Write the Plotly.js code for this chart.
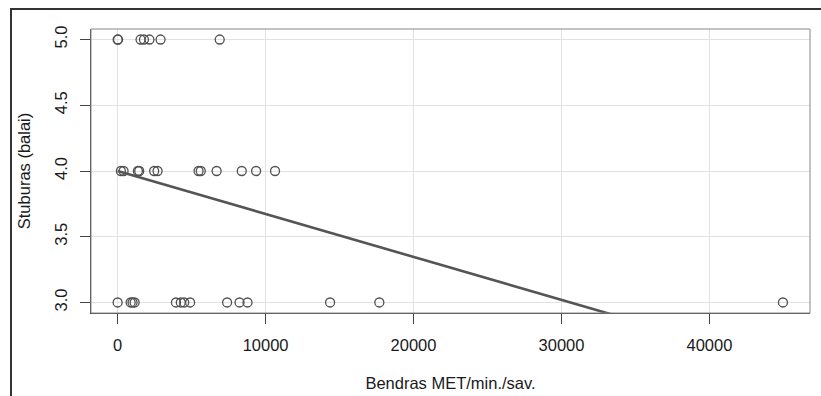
<!DOCTYPE html>
<html>
<head>
<meta charset="utf-8">
<script src="https://cdn.plot.ly/plotly-3.0.1.min.js"></script>
<style>
  html, body { margin: 0; padding: 0; background: #fff; }
  #wrap { position: relative; width: 821px; height: 396px; }
  #chart { position: absolute; left: 0; top: 0; width: 821px; height: 396px; }
  #frame { position: absolute; left: 10px; top: 8px; width: 820px; height: 400px;
           border-top: 2px solid #333; border-left: 2px solid #333; pointer-events: none; }
</style>
</head>
<body>
<div id="wrap">
  <div id="chart"></div>
  <div id="frame"></div>
</div>
<script>
// Physical activity (MET-min/week) by score level
const score5X = [0, 30, 1550, 1780, 2150, 2900, 6900];
const score4X = [220, 400, 1370, 1460, 2470, 2700, 5470, 5620, 6690, 8390, 9360, 10640];
const score3X = [0, 880, 1010, 1150, 3940, 4270, 4500, 4900, 7400, 8240, 8780, 14360, 17690, 44970];
const scoreLevels = [5, 4, 3];

// Fitted regression line
const fitX = [0, 45000];
const fitY = [4.0, 2.53];

const xTicks = [0, 10000, 20000, 30000, 40000];
const yTicks = [3.0, 3.5, 4.0, 4.5, 5.0];
const xLabel = 'Bendras MET/min./sav.';
const yLabel = 'Stuburas (balai)';

const groups = [score5X, score4X, score3X];
const ptsX = [], ptsY = [];
groups.forEach((g, i) => g.forEach(v => { ptsX.push(v); ptsY.push(scoreLevels[i]); }));

const textColor = '#1a1a1a';
const fontFam = '"Liberation Sans", Arial, sans-serif';
const fs = 16.5;

const traces = [
  {
    x: ptsX, y: ptsY, type: 'scatter', mode: 'markers',
    marker: { symbol: 'circle-open', size: 9, color: '#505050', line: { width: 1.3, color: '#505050' } },
    hoverinfo: 'x+y', showlegend: false, cliponaxis: true
  },
  {
    x: fitX, y: fitY, type: 'scatter', mode: 'lines',
    line: { color: '#555', width: 2.6 },
    showlegend: false, cliponaxis: true
  }
];

const layout = {
  width: 821, height: 396,
  margin: { l: 91, r: 11, t: 29, b: 83 },
  paper_bgcolor: 'rgba(0,0,0,0)',
  plot_bgcolor: '#fff',
  font: { family: fontFam, size: fs, color: textColor },
  showlegend: false,
  xaxis: {
    range: [-1800, 46800],
    tickvals: xTicks, ticktext: xTicks.map(String),
    showgrid: true, gridcolor: '#e2e2e2', gridwidth: 1,
    zeroline: false,
    showline: true, linecolor: '#444', linewidth: 1,
    ticks: 'outside', ticklen: 10, tickcolor: '#444', tickwidth: 1,
    ticklabelstandoff: 7,
    tickfont: { size: fs, color: textColor },
    title: { text: xLabel, font: { size: fs, color: textColor }, standoff: 24 },
    automargin: false, fixedrange: true
  },
  yaxis: {
    range: [2.92, 5.08],
    tickvals: yTicks, ticktext: yTicks.map(v => v.toFixed(1)),
    tickangle: -90,
    showgrid: true, gridcolor: '#e2e2e2', gridwidth: 1,
    zeroline: false,
    showline: true, linecolor: '#444', linewidth: 1,
    ticks: 'outside', ticklen: 10, tickcolor: '#444', tickwidth: 1,
    ticklabelstandoff: 6,
    tickfont: { size: fs, color: textColor },
    title: { text: yLabel, font: { size: fs, color: textColor }, standoff: 17 },
    automargin: false, fixedrange: true
  },
  shapes: [
    { type: 'rect', xref: 'paper', yref: 'paper', x0: 0, x1: 1, y0: 0, y1: 1,
      line: { color: '#888', width: 1 }, fillcolor: 'rgba(0,0,0,0)', layer: 'above' }
  ]
};

Plotly.newPlot('chart', traces, layout, { displayModeBar: false, staticPlot: true });
</script>
</body>
</html>
